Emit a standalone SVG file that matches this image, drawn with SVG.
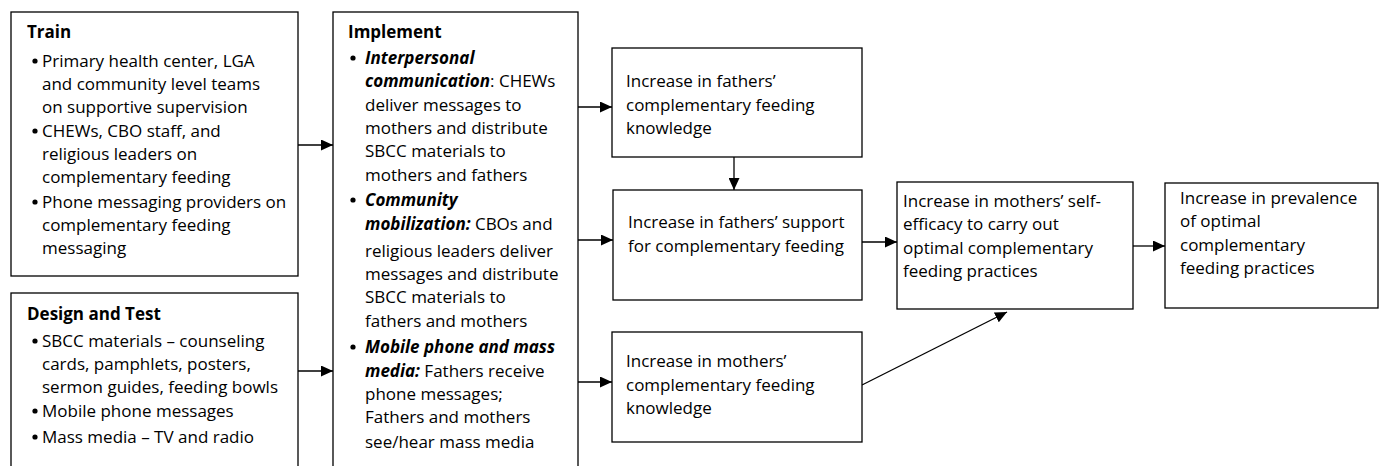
<svg xmlns="http://www.w3.org/2000/svg" width="1379" height="466" viewBox="0 0 1379 466">
<style>
.box{fill:#fff;stroke:#000;stroke-width:1.3}
.t{font-family:"Open Sans","Liberation Sans",sans-serif;font-size:17px;fill:#000}
.b{font-weight:bold}
.bi{font-weight:bold;font-style:italic}
.con{stroke:#000;stroke-width:1.3;fill:none;marker-end:url(#ah)}
.dot{fill:#000}
</style>
<defs>
<marker id="ah" markerUnits="userSpaceOnUse" markerWidth="12" markerHeight="11" refX="12" refY="5.5" orient="auto">
<path d="M0,0 L12,5.5 L0,11 Z" fill="#000"/>
</marker>
</defs>
<rect width="1379" height="466" fill="#fff"/>
<g id="connectors">
<line class="con" x1="298" y1="145" x2="333" y2="145"/>
<line class="con" x1="298" y1="371" x2="333" y2="371"/>
<line class="con" x1="578" y1="107" x2="612" y2="107"/>
<line class="con" x1="578" y1="240" x2="613" y2="240"/>
<line class="con" x1="578" y1="382" x2="612" y2="382"/>
<line class="con" x1="734" y1="157" x2="734" y2="190"/>
<line class="con" x1="862" y1="242" x2="897" y2="242"/>
<line class="con" x1="1133" y1="246" x2="1165" y2="246"/>
<line class="con" x1="862" y1="385" x2="1007" y2="312"/>
</g>
<g id="train">
<rect class="box" x="11" y="12" width="287" height="264"/>
<text class="t b" x="27" y="38">Train</text>
<circle class="dot" cx="35" cy="61" r="2.6"/>
<circle class="dot" cx="35" cy="131" r="2.6"/>
<circle class="dot" cx="35" cy="202" r="2.6"/>
<text class="t" x="42" y="67">Primary health center, LGA</text>
<text class="t" x="42" y="90">and community level teams</text>
<text class="t" x="42" y="113">on supportive supervision</text>
<text class="t" x="42" y="137">CHEWs, CBO staff, and</text>
<text class="t" x="42" y="160">religious leaders on</text>
<text class="t" x="42" y="183">complementary feeding</text>
<text class="t" x="42" y="208">Phone messaging providers on</text>
<text class="t" x="42" y="231">complementary feeding</text>
<text class="t" x="42" y="254">messaging</text>
</g>
<g id="design">
<rect class="box" x="11" y="293" width="287" height="200"/>
<text class="t b" x="27" y="320">Design and Test</text>
<circle class="dot" cx="35" cy="341" r="2.6"/>
<circle class="dot" cx="35" cy="411" r="2.6"/>
<circle class="dot" cx="35" cy="437" r="2.6"/>
<text class="t" x="42" y="347">SBCC materials – counseling</text>
<text class="t" x="42" y="370">cards, pamphlets, posters,</text>
<text class="t" x="42" y="393">sermon guides, feeding bowls</text>
<text class="t" x="42" y="417">Mobile phone messages</text>
<text class="t" x="42" y="443">Mass media – TV and radio</text>
</g>
<g id="implement">
<rect class="box" x="333" y="12" width="245" height="480"/>
<text class="t b" x="348" y="38">Implement</text>
<circle class="dot" cx="353" cy="58" r="2.6"/>
<circle class="dot" cx="353" cy="200" r="2.6"/>
<circle class="dot" cx="353" cy="347" r="2.6"/>
<text class="t bi" x="365" y="64">Interpersonal</text>
<text class="t" x="365" y="87"><tspan class="bi">communication</tspan>: CHEWs</text>
<text class="t" x="365" y="111">deliver messages to</text>
<text class="t" x="365" y="134">mothers and distribute</text>
<text class="t" x="365" y="157">SBCC materials to</text>
<text class="t" x="365" y="181">mothers and fathers</text>
<text class="t bi" x="365" y="206">Community</text>
<text class="t" x="365" y="230"><tspan class="bi">mobilization:</tspan> CBOs and</text>
<text class="t" x="365" y="257">religious leaders deliver</text>
<text class="t" x="365" y="280">messages and distribute</text>
<text class="t" x="365" y="303">SBCC materials to</text>
<text class="t" x="365" y="327">fathers and mothers</text>
<text class="t bi" x="365" y="353">Mobile phone and mass</text>
<text class="t" x="365" y="377"><tspan class="bi">media:</tspan> Fathers receive</text>
<text class="t" x="365" y="400">phone messages;</text>
<text class="t" x="365" y="423">Fathers and mothers</text>
<text class="t" x="365" y="448">see/hear mass media</text>
</g>
<g id="fathers-knowledge">
<rect class="box" x="612" y="48" width="250" height="109"/>
<text class="t" x="626" y="87">Increase in fathers’</text>
<text class="t" x="626" y="111">complementary feeding</text>
<text class="t" x="626" y="134">knowledge</text>
</g>
<g id="fathers-support">
<rect class="box" x="613" y="190" width="249" height="110"/>
<text class="t" x="628" y="228">Increase in fathers’ support</text>
<text class="t" x="628" y="252">for complementary feeding</text>
</g>
<g id="mothers-knowledge">
<rect class="box" x="612" y="332" width="250" height="110"/>
<text class="t" x="626" y="367">Increase in mothers’</text>
<text class="t" x="626" y="391">complementary feeding</text>
<text class="t" x="626" y="414">knowledge</text>
</g>
<g id="self-efficacy">
<rect class="box" x="897" y="182" width="236" height="127"/>
<text class="t" x="903" y="207">Increase in mothers’ self-</text>
<text class="t" x="903" y="230">efficacy to carry out</text>
<text class="t" x="903" y="254">optimal complementary</text>
<text class="t" x="903" y="277">feeding practices</text>
</g>
<g id="prevalence">
<rect class="box" x="1165" y="183" width="213" height="125"/>
<text class="t" x="1180" y="204">Increase in prevalence</text>
<text class="t" x="1180" y="227">of optimal</text>
<text class="t" x="1180" y="251">complementary</text>
<text class="t" x="1180" y="274">feeding practices</text>
</g>
</svg>
